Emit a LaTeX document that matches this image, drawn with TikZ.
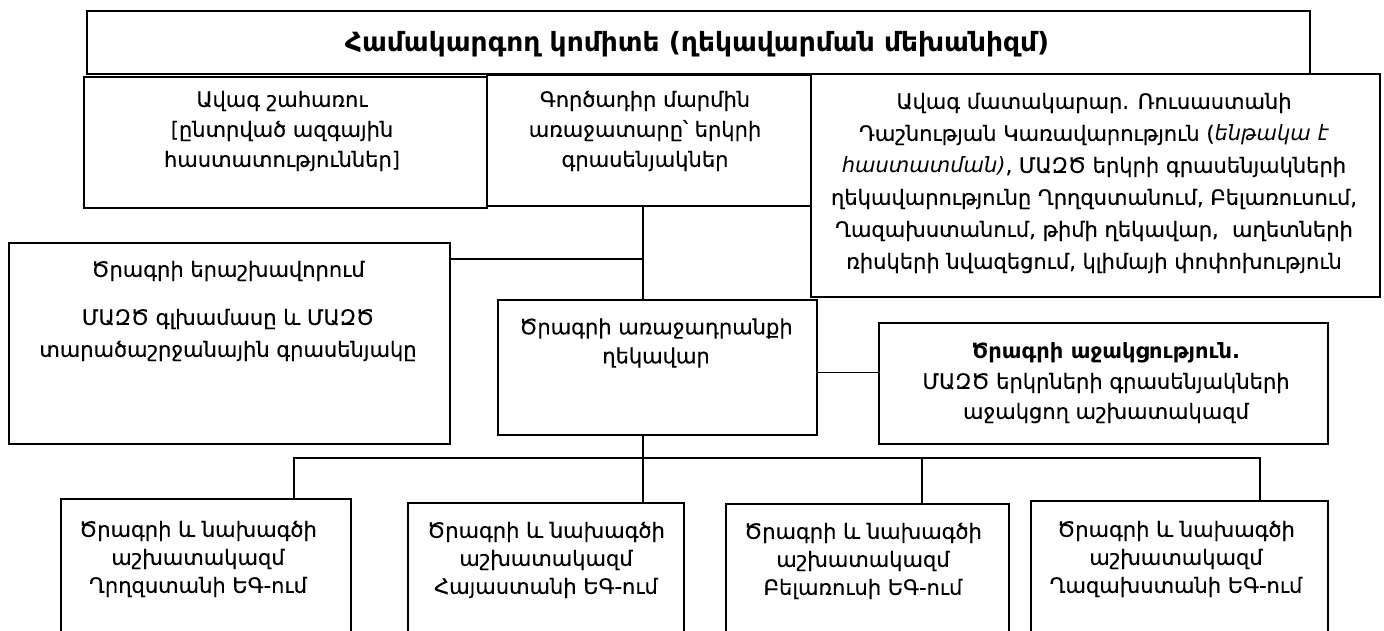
\documentclass[tikz,border=0pt]{standalone}
\usepackage{fontspec}
\setmainfont{DejaVu Sans}[UprightFeatures={FakeBold=0.3}]
\begin{document}
\begin{tikzpicture}[x=1pt,y=-1pt,
  bx/.style={draw, fill=white, line width=1.6pt, rectangle, inner sep=0pt, anchor=north west},
  ln/.style={line width=1.4pt},
  tx/.style={align=center, inner sep=0pt, font=\fontsize{21}{30}\selectfont},
  ttl/.style={align=center, inner sep=0pt, font=\fontsize{26.5}{30}\selectfont\bfseries}]
\useasboundingbox (0,0) rectangle (1384,630);
\clip (0,0) rectangle (1384,630);
\fill[white] (0,0) rectangle (1384,630);

% boxes
\node[bx, minimum width=1223pt, minimum height=63pt] (title) at (86,10) {};
\node[bx, minimum width=403pt, minimum height=131pt] (sb) at (83,76) {};
\node[bx, minimum width=324pt, minimum height=131pt] (exe) at (486,74) {};
\node[bx, minimum width=569pt, minimum height=223pt] (ss) at (810,73) {};
\node[bx, minimum width=441pt, minimum height=201pt] (assur) at (8,242) {};
\node[bx, minimum width=319pt, minimum height=135pt] (lead) at (497,299) {};
\node[bx, minimum width=449pt, minimum height=121pt] (supp) at (878,322) {};
\node[bx, minimum width=290pt, minimum height=152pt] (b1) at (60,498) {};
\node[bx, minimum width=276pt, minimum height=148pt] (b2) at (407,502) {};
\node[bx, minimum width=283pt, minimum height=147pt] (b3) at (725,503) {};
\node[bx, minimum width=297pt, minimum height=150pt] (b4) at (1030,500) {};

% texts
\node[ttl] (titletext) at (697,44) {Համակարգող կոմիտե (ղեկավարման մեխանիզմ)};
\node[tx] (sbtext) at (282,131) {Ավագ շահառու\\{[}ընտրված ազգային\\հաստատություններ{]}};
\node[tx] (exetext) at (645,131) {Գործադիր մարմին\\առաջատարը՝ երկրի\\գրասենյակներ};
\node[tx, font=\fontsize{21}{32}\selectfont] (sstext) at (1094,183) {Ավագ մատակարար. Ռուսաստանի\\Դաշնության Կառավարություն (\textit{ենթակա է}\\\textit{հաստատման)}, ՄԱԶԾ երկրի գրասենյակների\\ղեկավարությունը Ղրղզստանում, Բելառուսում,\\Ղազախստանում, թիմի ղեկավար,\ \ աղետների\\ռիսկերի նվազեցում, կլիմայի փոփոխություն};
\node[tx, font=\fontsize{21}{32}\selectfont] (assurtext) at (228,311) {Ծրագրի երաշխավորում\\[16pt]ՄԱԶԾ գլխամասը և ՄԱԶԾ\\տարածաշրջանային գրասենյակը};
\node[tx, font=\fontsize{21}{29}\selectfont] (leadtext) at (656,343) {Ծրագրի առաջադրանքի\\ղեկավար};
\node[tx] (supptext) at (1106,383) {\textbf{Ծրագրի աջակցություն.}\\ՄԱԶԾ երկրների գրասենյակների\\աջակցող աշխատակազմ};
\node[tx, font=\fontsize{21}{28}\selectfont] (b1text) at (198,559) {Ծրագրի և նախագծի\\աշխատակազմ\\Ղրղզստանի ԵԳ-ում};
\node[tx, font=\fontsize{21}{28}\selectfont] (b2text) at (546,560) {Ծրագրի և նախագծի\\աշխատակազմ\\Հայաստանի ԵԳ-ում};
\node[tx, font=\fontsize{21}{28}\selectfont] (b3text) at (863,561) {Ծրագրի և նախագծի\\աշխատակազմ\\Բելառուսի ԵԳ-ում};
\node[tx, font=\fontsize{21}{28}\selectfont] (b4text) at (1176,559) {Ծրագրի և նախագծի\\աշխատակազմ\\Ղազախստանի ԵԳ-ում};

% connectors
\coordinate (spine) at (643,205);
\coordinate (bus1) at (294,458);
\coordinate (bus3) at (922,458);
\coordinate (bus4) at (1260,458);
\draw[ln] (exe.south -| spine) -- (lead.north -| spine);
\draw[ln] ([yshift=-17pt]assur.north east) -- ([yshift=-17pt]assur.north east -| spine);
\draw[ln] ([yshift=-5pt]lead.east) -- ([yshift=-5pt]lead.east -| supp.west);
\draw[ln] (lead.south -| spine) -- (b2.north -| spine);
\draw[ln] (bus1 |- b1.north) -- (bus1) -- (bus4) -- (bus4 |- b4.north);
\draw[ln] (bus3) -- (bus3 |- b3.north);
\end{tikzpicture}
\end{document}
